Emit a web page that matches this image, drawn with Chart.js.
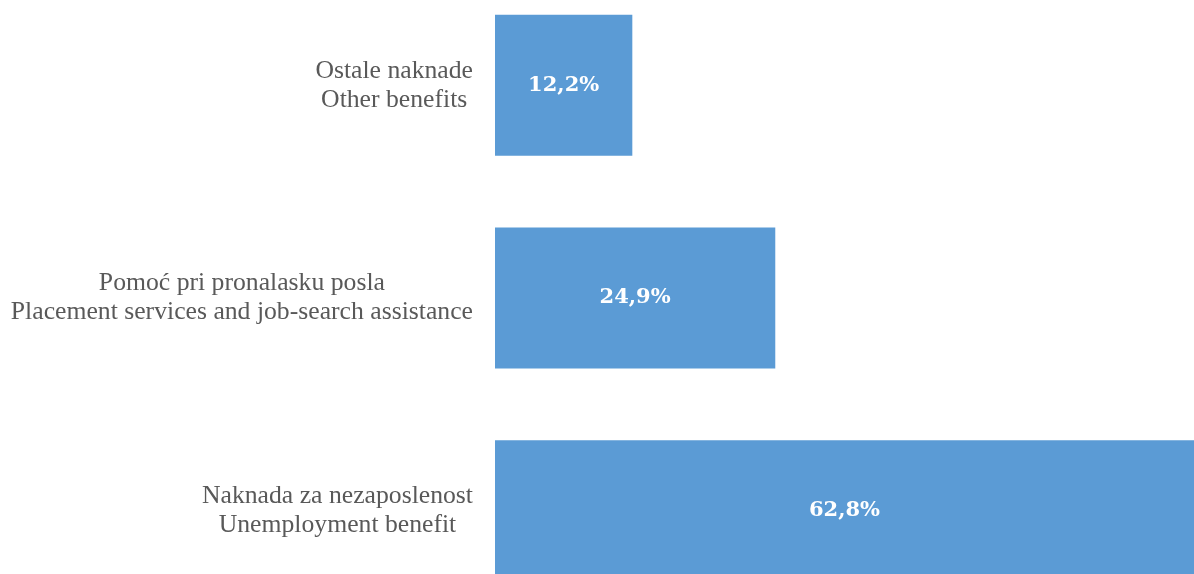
<!DOCTYPE html>
<html>
<head>
<meta charset="utf-8">
<script src="https://cdn.jsdelivr.net/npm/chart.js@4"></script>
<style>
  html, body { margin: 0; padding: 0; background: #ffffff; overflow: hidden; }
  #wrap { width: 1194px; height: 574px; position: relative; overflow: hidden; }
  #c { position: absolute; left: 0; top: -21px; }
</style>
</head>
<body>
<div id="wrap"><canvas id="c" width="1194" height="638"></canvas></div>
<script>
const categories = [
  ["Ostale naknade", "Other benefits"],
  ["Pomoć pri pronalasku posla", "Placement services and job-search assistance"],
  ["Naknada za nezaposlenost", "Unemployment benefit"]
];
const values = [12.2, 24.9, 62.8];
const valueLabels = ["12,2%", "24,9%", "62,8%"];

const LABEL_FONT = "25.7px 'Liberation Serif', 'DejaVu Serif', serif";
const VALUE_FONT = "bold 21px 'DejaVu Serif', 'Liberation Serif', serif";

const labelPlugin = {
  id: 'labelPlugin',
  afterDatasetsDraw(chart) {
    const ctx = chart.ctx;
    const y = chart.scales.y;
    const x = chart.scales.x;
    ctx.save();
    ctx.font = LABEL_FONT;
    ctx.fillStyle = "#595959";
    ctx.textAlign = "center";
    ctx.textBaseline = "middle";
    const lh = 29;
    categories.forEach((lines, i) => {
      const cy = y.getPixelForValue(i);
      let w = 0;
      lines.forEach(l => { w = Math.max(w, ctx.measureText(l).width); });
      const cx = x.left - 22 - w / 2;
      lines.forEach((l, j) => {
        ctx.fillText(l, cx, cy + (j - (lines.length - 1) / 2) * lh);
      });
    });
    ctx.font = VALUE_FONT;
    ctx.fillStyle = "#ffffff";
    const meta = chart.getDatasetMeta(0);
    meta.data.forEach((bar, i) => {
      const end = Math.min(bar.x, chart.chartArea.right);
      const cx = (bar.base + end) / 2;
      ctx.fillText(valueLabels[i], cx, bar.y);
    });
    ctx.restore();
  }
};

new Chart(document.getElementById('c'), {
  type: 'bar',
  data: {
    labels: categories.map(c => c.join(' ')),
    datasets: [{
      data: values,
      backgroundColor: '#5B9BD5',
      borderWidth: 0,
      barPercentage: 0.663,
      categoryPercentage: 1
    }]
  },
  options: {
    indexAxis: 'y',
    responsive: false,
    animation: false,
    layout: { padding: 0 },
    plugins: { legend: { display: false }, tooltip: { enabled: false } },
    scales: {
      x: {
        min: 0, max: 62.1,
        display: false
      },
      y: {
        ticks: { display: false },
        grid: { display: false },
        border: { display: false },
        afterFit(scale) { scale.width = 495; }
      }
    }
  },
  plugins: [labelPlugin]
});
</script>
</body>
</html>
